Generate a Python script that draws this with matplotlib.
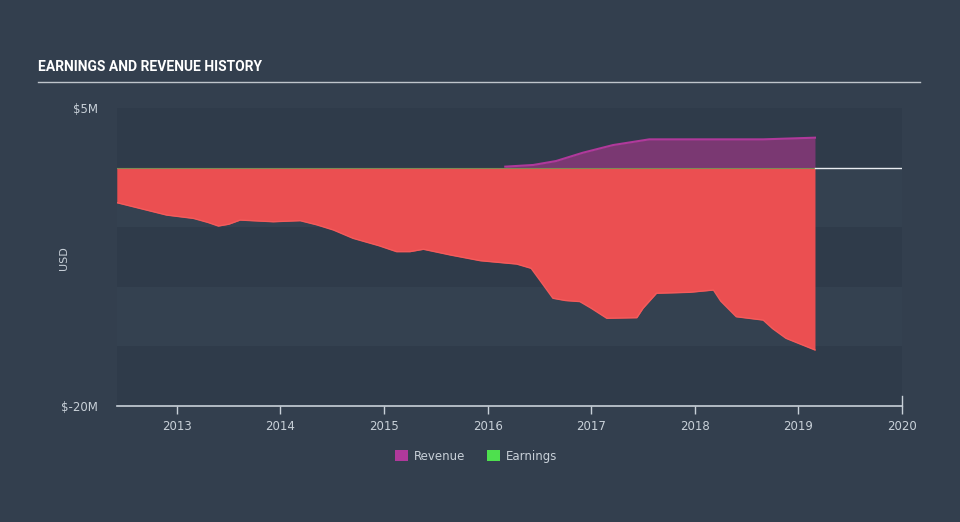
import matplotlib
matplotlib.use("Agg")
import matplotlib.pyplot as plt
from matplotlib.lines import Line2D
from matplotlib.patches import Patch

# earnings (USD millions)
earn_t = [2012.42, 2012.90, 2013.16, 2013.30, 2013.40, 2013.50, 2013.61, 2013.93,
          2014.19, 2014.35, 2014.51, 2014.70, 2014.95, 2015.12, 2015.25, 2015.38,
          2015.64, 2015.93, 2016.28, 2016.42, 2016.50, 2016.63, 2016.75, 2016.89,
          2017.00, 2017.15, 2017.44, 2017.50, 2017.63, 2017.95, 2018.18, 2018.25,
          2018.40, 2018.66, 2018.75, 2018.88, 2019.16]
earn_v = [-2.94, -3.98, -4.26, -4.60, -4.90, -4.75, -4.40, -4.54,
          -4.45, -4.80, -5.23, -5.93, -6.55, -7.05, -7.05, -6.85,
          -7.33, -7.81, -8.09, -8.45, -9.40, -10.96, -11.15, -11.24,
          -11.80, -12.64, -12.59, -11.80, -10.54, -10.46, -10.27, -11.20,
          -12.51, -12.79, -13.50, -14.32, -15.30]

# revenue (USD millions)
rev_t = [2016.17, 2016.44, 2016.66, 2016.92, 2017.21, 2017.56, 2018.66, 2019.16]
rev_v = [0.08, 0.22, 0.55, 1.25, 1.89, 2.37, 2.37, 2.51]

years = [2013, 2014, 2015, 2016, 2017, 2018, 2019, 2020]

BG = "#333f4e"
BAND_DARK = "#2f3b4a"
BAND_LIGHT = "#344150"
FG = "#c8d0d8"
RED = "#eb4f51"
RED_EDGE = "#f45b5b"
PURPLE_FILL = "#7a3872"
PURPLE = "#b0399b"
GREEN = "#4ee04e"

fig = plt.figure(figsize=(9.6, 5.22), dpi=100)
fig.patch.set_facecolor(BG)
ax = fig.add_axes([117 / 960, 1 - 406 / 522, (902 - 117) / 960, (406 - 108) / 522])
ax.set_facecolor(BG)

x0, x1 = 2012.422, 2020.0
ax.set_xlim(x0, x1)
ax.set_ylim(-20, 5)

# alternating background bands
for i, lo in enumerate(range(-20, 5, 5)):
    ax.axhspan(lo, lo + 5, color=BAND_DARK if i % 2 == 0 else BAND_LIGHT, lw=0, zorder=0)

# earnings area
ax.fill_between(earn_t, 0, earn_v, color=RED, lw=0, zorder=2)
ax.plot(earn_t, earn_v, color=RED_EDGE, lw=1.0, zorder=3)

# revenue area
ax.fill_between(rev_t, 0, rev_v, color=PURPLE_FILL, lw=0, zorder=2)
ax.plot(rev_t, rev_v, color=PURPLE, lw=1.5, zorder=3)

# zero line
ax.plot([earn_t[0], earn_t[-1]], [0, 0], color="#7f8a55", lw=0.8, zorder=4)
ax.plot([earn_t[-1], x1], [0, 0], color="#e8ecf0", lw=1.0, zorder=4)

for s in ax.spines.values():
    s.set_visible(False)
ax.axhline(-20, color=FG, lw=1.2, zorder=5, clip_on=False)
ax.plot([x1, x1], [-20, -19.2], color=FG, lw=1.0, clip_on=False, zorder=5)

ax.set_xticks(years)
ax.set_xticklabels([str(y) for y in years])
ax.tick_params(axis="x", colors=FG, labelcolor=FG, length=6, width=1,
               direction="out", labelsize=8.5, pad=4)
ax.set_yticks([5, -20])
ax.set_yticklabels(["$5M", "$-20M"])
ax.tick_params(axis="y", length=0, labelcolor=FG, labelsize=8.5, pad=14)

fig.text(64 / 960, 1 - 258 / 522, "USD", rotation=90, color=FG, fontsize=8,
         ha="center", va="center")

# title and rule
fig.text(38 / 960, 1 - 67 / 522, "EARNINGS AND REVENUE HISTORY", color="white",
         fontsize=10, fontweight="bold", family="Roboto",
         ha="left", va="center")
fig.add_artist(Line2D([38 / 960, 920 / 960], [1 - 81.5 / 522, 1 - 81.5 / 522],
                      color="#bfc5cc", lw=1.0))

handles = [Patch(facecolor=PURPLE, edgecolor="none", label="Revenue"),
           Patch(facecolor=GREEN, edgecolor="none", label="Earnings")]
fig.legend(handles=handles, loc="center", bbox_to_anchor=(476 / 960, 1 - 456 / 522),
           ncol=2, frameon=False, fontsize=8.5, labelcolor=FG,
           handlelength=1.1, handleheight=1.1, handletextpad=0.5, columnspacing=1.8)

fig.savefig("out.png", dpi=100, facecolor=BG)
